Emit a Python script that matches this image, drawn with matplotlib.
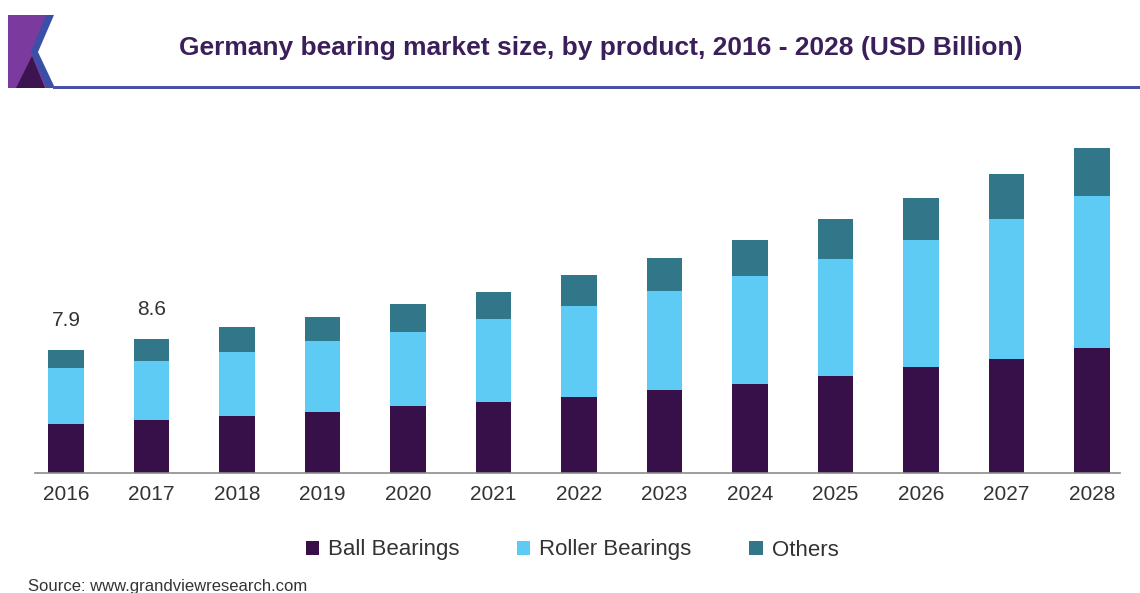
import numpy as np
import matplotlib
matplotlib.use("Agg")
import matplotlib.pyplot as plt
from matplotlib.patches import Polygon, Rectangle

# data (USD Billion)
years = ["2016", "2017", "2018", "2019", "2020", "2021", "2022",
         "2023", "2024", "2025", "2026", "2027", "2028"]
ball = [3.15, 3.40, 3.66, 3.92, 4.30, 4.56, 4.88, 5.33, 5.72, 6.23, 6.81, 7.32, 8.03]
roller = [3.60, 3.79, 4.11, 4.56, 4.75, 5.33, 5.84, 6.36, 6.94, 7.51, 8.16, 8.99, 9.76]
others = [1.15, 1.41, 1.61, 1.54, 1.80, 1.73, 1.99, 2.12, 2.31, 2.57, 2.70, 2.89, 3.08]
labels = {0: "7.9", 1: "8.6"}

series_names = ["Ball Bearings", "Roller Bearings", "Others"]
colors = ["#37104a", "#5ecbf5", "#317689"]

plt.rcParams['font.family'] = ['Liberation Sans', 'DejaVu Sans']

W, H = 1140, 593
fig = plt.figure(figsize=(W / 100, H / 100), dpi=100)

# axes placed in pixel terms: baseline at y=473, bars from x=35 to 1120
ax = fig.add_axes([35 / W, (H - 473) / H, (1120 - 35) / W, (473 - 140) / H])
x = np.arange(len(years))
ball = np.array(ball)
roller = np.array(roller)
others = np.array(others)
w = 0.42
ax.bar(x, ball, w, color=colors[0], label=series_names[0])
ax.bar(x, roller, w, bottom=ball, color=colors[1], label=series_names[1])
ax.bar(x, others, w, bottom=ball + roller, color=colors[2], label=series_names[2])

totals = ball + roller + others
for i, txt in labels.items():
    ax.text(x[i], totals[i] + 1.3, txt, ha="center", va="bottom",
            fontsize=15, color="#333333")

ax.set_xlim(-0.3626, 12.327)
ax.set_ylim(0, 333 / 15.57)
ax.set_xticks(x)
ax.set_xticklabels(years, fontsize=15, color="#333333")
ax.tick_params(axis="x", length=0, pad=9)
ax.set_yticks([])
for s in ["top", "right", "left"]:
    ax.spines[s].set_visible(False)
ax.spines["bottom"].set_color("#8c8c8c")
ax.spines["bottom"].set_linewidth(1.2)

# legend
leg = ax.legend(loc="center", bbox_to_anchor=(572 / W, 1 - 550 / H),
                bbox_transform=fig.transFigure, ncol=3, frameon=False,
                fontsize=16, handlelength=0.6, handleheight=0.6,
                handletextpad=0.4, columnspacing=2.6)
for t in leg.get_texts():
    t.set_color("#333333")

# header: logo block and rule
def px(xp, yp):
    return (xp / W, 1 - yp / H)

fig.patches.append(Polygon([px(8, 15), px(52, 15), px(35, 52), px(53, 88), px(8, 88)],
                           closed=True, facecolor="#7a3a9e", transform=fig.transFigure))
fig.patches.append(Polygon([px(16, 88), px(32, 56), px(45, 88)],
                           closed=True, facecolor="#3b1450", transform=fig.transFigure))
fig.patches.append(Polygon([px(46, 15), px(54, 15), px(38, 52), px(55, 88), px(47, 88), px(31, 52)],
                           closed=True, facecolor="#3a4fa8", transform=fig.transFigure))
fig.patches.append(Rectangle(px(53, 89), 1 - 53 / W, 2.5 / H,
                             facecolor="#4a50a8", transform=fig.transFigure))

fig.text(601 / W, 1 - 48 / H, "Germany bearing market size, by product, 2016 - 2028 (USD Billion)",
         ha="center", va="center", fontsize=19, fontweight="bold", color="#3b1f5a")
fig.text(28 / W, 1 - 586 / H, "Source: www.grandviewresearch.com",
         ha="left", va="center", fontsize=12, color="#333333")

fig.savefig("out.png", dpi=100)
